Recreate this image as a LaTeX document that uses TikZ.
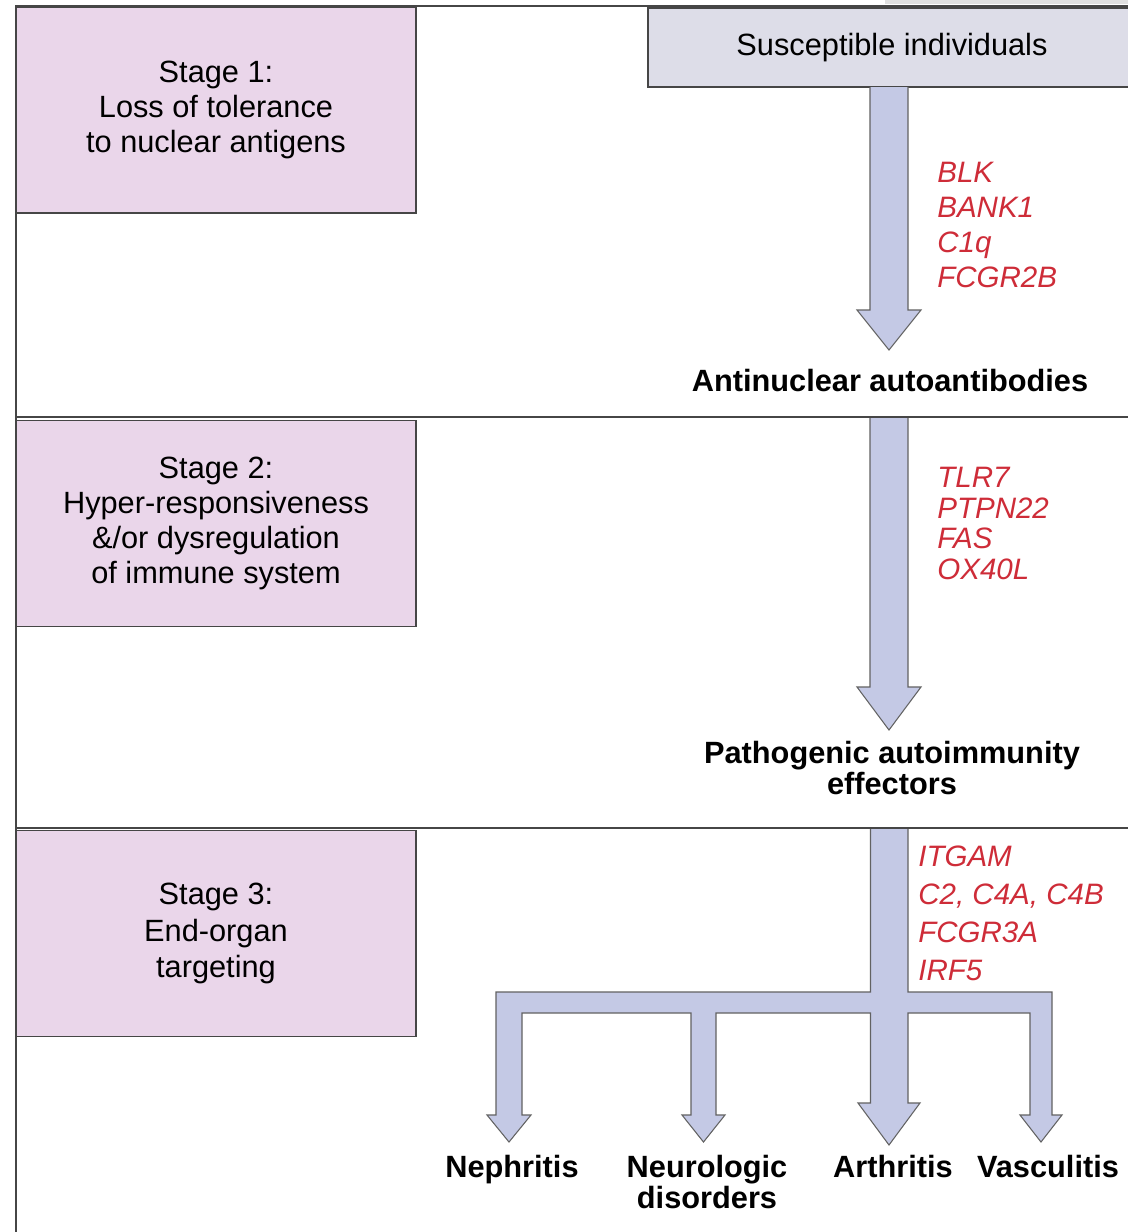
\documentclass[tikz,border=0pt]{standalone}
\usepackage{fontspec}
\setmainfont{Liberation Sans}
\usetikzlibrary{calc}
\definecolor{c1}{RGB}{196, 201, 229}
\definecolor{c2}{RGB}{206, 44, 56}
\definecolor{c3}{RGB}{234, 214, 234}
\definecolor{c4}{RGB}{221, 221, 232}
\definecolor{c5}{RGB}{70, 70, 70}
\tikzset{
  stagebox/.style = {rectangle, draw=c5, fill=c3, line width=0.8pt, minimum width=8cm, minimum height=4.12cm, align=center, inner sep=0pt, font=\fontsize{17.5}{19.9}\selectfont},
  susbox/.style = {rectangle, draw=c5, fill=c4, line width=0.8pt, minimum width=9.76cm, minimum height=1.58cm, inner sep=0pt, font=\fontsize{17.5}{19.9}\selectfont},
  gene/.style = {anchor=west, align=left, inner sep=0pt, text=c2, font=\itshape\fontsize{16.8}{19.9}\selectfont},
  result/.style = {align=center, inner sep=0pt, font=\bfseries\fontsize{17.5}{17.6}\selectfont},
  blockarrow/.style = {draw=c5!85, fill=c1, line width=0.6pt, line join=miter},
  frame/.style = {draw=c5, line width=1.1pt},
}
% from, to, shaft half width, head half width, head length
\newcommand{\fatarrow}[5]{%
  \filldraw[blockarrow] ($(#1)+(-#3,0)$) -- ($(#2)+(-#3,-#5)$) -- ($(#2)+(-#4,-#5)$) -- (#2)
    -- ($(#2)+(#4,-#5)$) -- ($(#2)+(#3,-#5)$) -- ($(#1)+(#3,0)$);
}

\begin{document}
\begin{tikzpicture}[x=0.02cm, y=-0.02cm]
\useasboundingbox (0,0) rectangle (1128,1232);
\fill[white] (0,0) rectangle (1128,1232);
\fill[black!12] (885,0) rectangle (1128,4);

% stages
\node[stagebox] (st1) at (216,110) {Stage 1:\\Loss of tolerance\\to nuclear antigens};
\node[stagebox] (st2) at (216,523.5) {Stage 2:\\Hyper-responsiveness\\\&/or dysregulation\\of immune system};
\node[stagebox, font=\fontsize{17.5}{21}\selectfont] (st3) at (216,933.5) {Stage 3:\\End-organ\\targeting};

\node[susbox] (sus) at (892,47.5) {Susceptible individuals};

% arrows
\coordinate (a1s) at (889,87);
\coordinate (a1t) at (889,350);
\coordinate (a2s) at (889,417);
\coordinate (a2t) at (889,730);
\fatarrow{a1s}{a1t}{19}{32}{40}
\fatarrow{a2s}{a2t}{19}{32}{43}

% stage 3: trunk and branches
\filldraw[blockarrow] (870.5,828) -- (870.5,992) -- (496,992) -- (496,1115) -- (487,1115)
  -- (509,1142) -- (531,1115) -- (522,1115) -- (522,1013) -- (691,1013) -- (691,1115)
  -- (682,1115) -- (703.5,1142) -- (725,1115) -- (716,1115) -- (716,1013) -- (870.5,1013)
  -- (870.5,1103) -- (858,1103) -- (889,1145) -- (920,1103) -- (908,1103) -- (908,1013)
  -- (1030,1013) -- (1030,1115) -- (1020,1115) -- (1041,1142) -- (1062,1115) -- (1052,1115)
  -- (1052,992) -- (908,992) -- (908,828);

% genes
\node[gene] (g1) at (937,225) {BLK\\BANK1\\C1q\\FCGR2B};
\node[gene, font=\itshape\fontsize{16.8}{17.6}\selectfont] (g2) at (937,523.5) {TLR7\\PTPN22\\FAS\\OX40L};
\node[gene, font=\itshape\fontsize{16.8}{21.6}\selectfont] (g3) at (918,913.5) {ITGAM\\C2, C4A, C4B\\FCGR3A\\IRF5};

% results
\node[result] (anti) at (890,380) {Antinuclear autoantibodies};
\node[result] (patho) at (892,768) {Pathogenic autoimmunity\\effectors};
\node[result, anchor=base] (neph) at (512,1177) {Nephritis};
\node[result, anchor=north] (neuro) at (707,1155) {Neurologic\\disorders};
\node[result, anchor=base] (arth) at (893,1177) {Arthritis};
\node[result, anchor=base] (vasc) at (1048,1177) {Vasculitis};

% frame
\draw[frame] (16,1232) -- (16,6) -- (1128,6);
\draw[frame] (16,417) -- (1128,417);
\draw[frame] (16,828) -- (1128,828);
\end{tikzpicture}
\end{document}
